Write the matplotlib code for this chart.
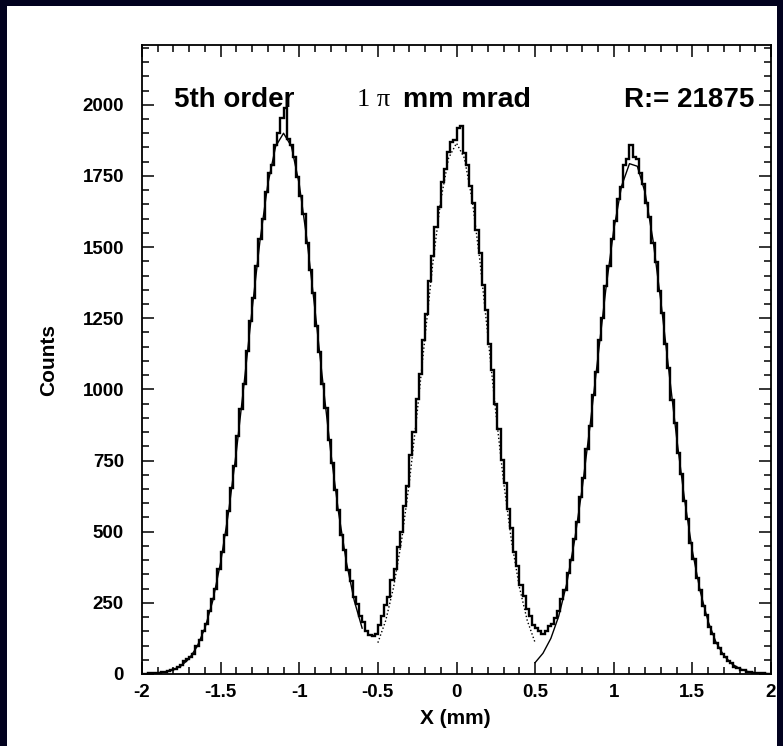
import numpy as np
import matplotlib
matplotlib.use("Agg")
import matplotlib.pyplot as plt
from matplotlib.patches import Rectangle
from matplotlib.ticker import MultipleLocator

# histogram counts, 200 bins of 0.02 mm between -2 and 2
counts = [
    1, 0, 2, 3, 2, 5, 7, 6, 11, 14, 19, 25, 32, 44, 52, 58, 72, 98, 121, 150,
    176, 220, 262, 300, 370, 430, 487, 572, 655, 730, 835, 930, 1018, 1135, 1240, 1322, 1435, 1530, 1600, 1695,
    1760, 1790, 1860, 1900, 1955, 1990, 1880, 1860, 1815, 1745, 1680, 1615, 1515, 1420, 1340, 1222, 1130, 1020, 935, 822,
    741, 645, 575, 490, 436, 365, 326, 270, 246, 205, 182, 150, 138, 133, 140, 172, 205, 242, 270, 330,
    370, 445, 500, 592, 662, 768, 850, 966, 1055, 1175, 1265, 1382, 1468, 1572, 1640, 1730, 1776, 1835, 1870, 1875,
    1920, 1925, 1832, 1790, 1715, 1655, 1560, 1480, 1368, 1280, 1160, 1068, 950, 862, 752, 672, 578, 512, 430, 378,
    312, 275, 228, 205, 172, 162, 150, 140, 152, 168, 176, 196, 220, 262, 296, 355, 402, 476, 535, 622,
    690, 790, 870, 980, 1060, 1172, 1252, 1362, 1435, 1530, 1590, 1670, 1710, 1790, 1810, 1858, 1815, 1808, 1760, 1720,
    1655, 1605, 1515, 1448, 1345, 1268, 1158, 1075, 962, 882, 778, 702, 608, 543, 460, 405, 338, 295, 240, 207,
    165, 140, 110, 93, 70, 60, 44, 38, 26, 22, 15, 13, 8, 7, 4, 4, 2, 2, 1, 0,
]

# fitted curves, sampled every 0.05 mm
left_fit = [0.6, 1.5, 3.4, 7.4, 15, 29, 54, 96, 161, 257, 392, 567, 781, 1025, 1280,
            1521, 1721, 1854, 1900, 1854, 1721, 1521, 1280, 1025, 781, 567, 392, 257, 161]
mid_fit = [110, 188, 305, 466, 673, 919, 1186, 1446, 1665, 1813, 1865,
           1813, 1665, 1446, 1186, 919, 673, 466, 305, 188, 110]
right_fit = [40, 73, 125, 203, 315, 466, 655, 876, 1116, 1353, 1561, 1715, 1793, 1784, 1690,
             1523, 1307, 1068, 830, 614, 432, 290, 185, 112, 65, 36, 19, 9, 4, 2, 1]

xticks = [-2, -1.5, -1, -0.5, 0, 0.5, 1, 1.5, 2]
xtick_labels = ['-2', '-1.5', '-1', '-0.5', '0', '0.5', '1', '1.5', '2']
yticks = [0, 250, 500, 750, 1000, 1250, 1500, 1750, 2000]

W, H = 783, 746
fig = plt.figure(figsize=(W / 100, H / 100), dpi=100, facecolor='#02021f')
fig.patches.append(Rectangle((7 / W, 0), (777 - 7) / W, (H - 6) / H,
                             transform=fig.transFigure, facecolor='white',
                             edgecolor='none', zorder=-1))

ax = fig.add_axes([142 / W, 1 - 674 / H, (771 - 142) / W, (674 - 45) / H])

edges = np.linspace(-2, 2, len(counts) + 1)
ax.stairs(counts, edges, color='black', lw=1.7)
ax.plot(np.linspace(-2.0, -0.6, len(left_fit)), left_fit, color='black', lw=1.0)
ax.plot(np.linspace(-0.5, 0.5, len(mid_fit)), mid_fit, color='black', lw=1.0, ls=':')
ax.plot(np.linspace(0.5, 2.0, len(right_fit)), right_fit, color='black', lw=1.0)

ax.set_xlim(-2, 2)
ax.set_ylim(0, 2210)
ax.set_xticks(xticks, xtick_labels)
ax.set_yticks(yticks)
ax.xaxis.set_minor_locator(MultipleLocator(0.1))
ax.yaxis.set_minor_locator(MultipleLocator(50))

ax.tick_params(which='both', direction='in', top=True, right=True, width=1.1, color='black')
ax.tick_params(which='major', length=8.5)
ax.tick_params(which='minor', length=5)
ax.tick_params(axis='y', pad=13)
ax.tick_params(axis='x', pad=7)
for lab in ax.get_xticklabels() + ax.get_yticklabels():
    lab.set_fontfamily('Liberation Sans')
    lab.set_fontweight('bold')
    lab.set_fontsize(13.5)
for sp in ax.spines.values():
    sp.set_linewidth(1.3)

fig.text(49 / W, 1 - 360 / H, 'Counts', rotation=90, ha='center', va='center',
         family='Liberation Sans', weight='bold', fontsize=15)
fig.text(455 / W, 1 - 718 / H, 'X (mm)', ha='center', va='center',
         family='Liberation Sans', weight='bold', fontsize=15)

ty = 1 - 100 / H
fig.text(174 / W, ty, '5th order', ha='left', va='center',
         family='Liberation Sans', weight='bold', fontsize=20)
fig.text(357 / W, ty, '1 π', ha='left', va='center',
         family='Liberation Serif', fontsize=19)
fig.text(403 / W, ty, 'mm mrad', ha='left', va='center',
         family='Liberation Sans', weight='bold', fontsize=20.5)
fig.text(754 / W, ty, 'R:= 21875', ha='right', va='center',
         family='Liberation Sans', weight='bold', fontsize=20)

fig.savefig('out.png', dpi=100, facecolor=fig.get_facecolor())
